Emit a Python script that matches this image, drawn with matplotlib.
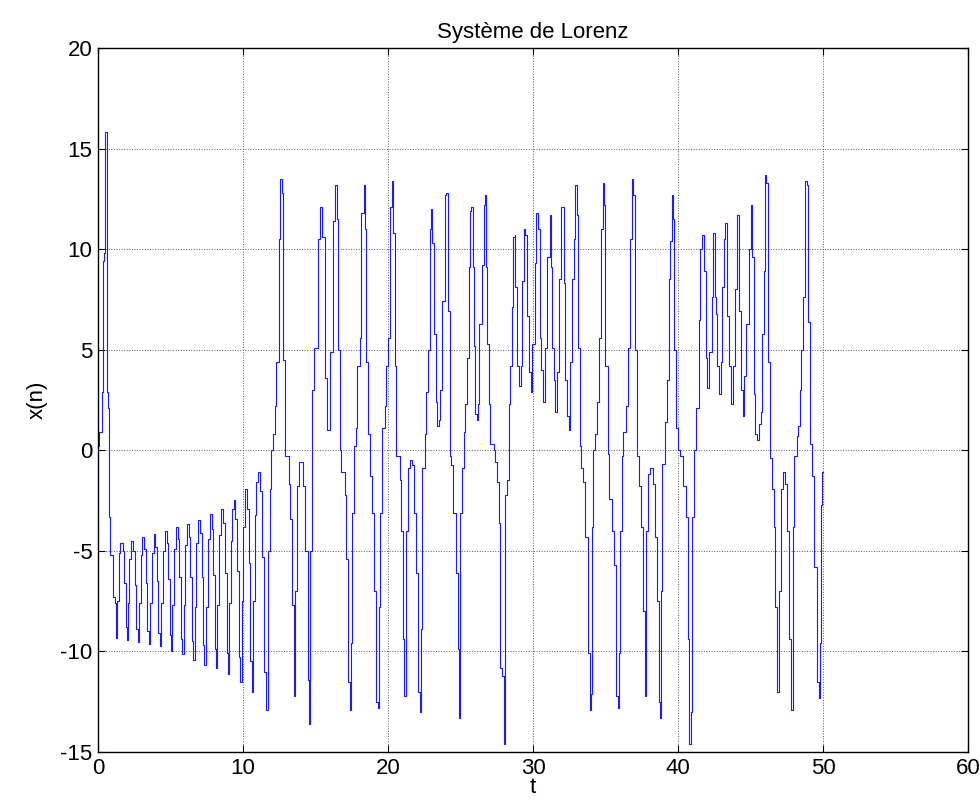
import matplotlib
matplotlib.use("Agg")
import matplotlib.pyplot as plt

start_t = [0.00, 0.08, 0.25, 0.34, 0.41, 0.48, 0.60, 0.64, 0.71, 0.76, 0.86, 1.00, 1.15]
start_x = [0.2, 0.9, 2.9, 9.4, 9.8, 15.8, 14.9, 2.9, 2.1, -3.3, -5.2, -7.3, -7.6]

# slow growing oscillation around the negative fixed point
calm_t = [1.22, 1.33, 1.45, 1.55, 1.70, 1.80, 1.90,
          1.98, 2.08, 2.17, 2.28, 2.42, 2.53, 2.64,
          2.74, 2.84, 2.94, 3.06, 3.19, 3.29, 3.40,
          3.50, 3.60, 3.70, 3.83, 3.96, 4.06, 4.17,
          4.27, 4.37, 4.47, 4.60, 4.73, 4.83, 4.94,
          5.03, 5.13, 5.23, 5.37, 5.50, 5.60, 5.71,
          5.80, 5.90, 6.00, 6.14, 6.27, 6.37, 6.47,
          6.56, 6.66, 6.77, 6.92, 7.05, 7.15, 7.25,
          7.34, 7.44, 7.55, 7.71, 7.84, 7.94, 8.04,
          8.12, 8.22, 8.33, 8.51, 8.64, 8.75, 8.86,
          8.96, 9.06, 9.16, 9.26, 9.36, 9.48, 9.58, 9.70,
          9.82, 9.92, 10.00, 10.12, 10.26, 10.38, 10.50,
          10.62, 10.72, 10.82, 10.92, 11.04, 11.18, 11.30, 11.44]
calm_x = [-9.35, -7.5, -5.1, -4.6, -5.0, -6.6, -8.8,
          -9.45, -7.6, -5.4, -4.5, -5.0, -6.7, -8.9,
          -9.55, -7.6, -5.2, -4.3, -4.9, -6.6, -9.0,
          -9.65, -7.6, -5.1, -4.15, -4.8, -6.5, -9.1,
          -9.75, -7.6, -5.0, -4.0, -4.6, -6.4, -9.2,
          -10.0, -7.7, -4.9, -3.8, -4.4, -6.3, -9.4,
          -10.15, -7.7, -4.7, -3.65, -4.3, -6.3, -9.5,
          -10.45, -7.8, -4.6, -3.45, -4.1, -6.3, -9.7,
          -10.65, -7.8, -4.4, -3.15, -3.9, -6.2, -9.9,
          -10.8, -7.7, -4.2, -2.9, -3.6, -6.1, -10.1,
          -11.1, -7.6, -4.5, -2.9, -2.45, -3.4, -6.0, -10.3,
          -11.5, -7.5, -3.8, -1.92, -2.9, -5.6, -10.5,
          -12.0, -7.5, -3.2, -1.6, -1.1, -2.0, -5.3, -11.0]

chaos1_t = [11.58, 11.72, 11.89, 11.95, 12.07, 12.18, 12.28, 12.46, 12.57,
            12.69, 12.75, 12.92, 13.15, 13.26, 13.38, 13.49,
            13.61, 13.72, 13.84,
            14.11, 14.30, 14.46, 14.57,
            14.64, 14.76, 14.87, 15.17, 15.33,
            15.45, 15.68, 15.79,
            16.02, 16.18, 16.35,
            16.48, 16.55, 16.67, 16.78, 17.01, 17.13, 17.24, 17.36,
            17.47, 17.54, 17.63, 17.77, 17.89, 18.05, 18.16, 18.34,
            18.44, 18.51, 18.62, 18.74, 18.92, 19.01, 19.15, 19.31,
            19.38, 19.43, 19.61, 19.77, 19.89, 20.00, 20.11, 20.30,
            20.34, 20.46, 20.57, 20.80, 20.92, 21.03, 21.10,
            21.22, 21.38, 21.54, 21.68,
            21.77, 21.91, 22.07, 22.23,
            22.30, 22.37, 22.53, 22.64, 22.76, 22.87, 22.99,
            23.06, 23.15, 23.29, 23.38, 23.52,
            23.61, 23.75, 23.91, 24.02,
            24.14, 24.25, 24.37, 24.48, 24.67, 24.80, 24.90]
chaos1_x = [-12.9, -5.0, -1.9, 0.0, 0.8, 2.2, 4.4, 10.5, 13.5,
            12.8, 4.5, -0.3, -1.7, -3.4, -7.7, -12.2,
            -7.0, -1.8, -0.6,
            -1.8, -5.0, -11.4, -13.6,
            -5.0, 3.0, 5.1, 10.5, 12.1,
            10.6, 3.6, 1.0,
            4.9, 11.4, 13.2,
            11.5, 5.0, 0.0, -1.1, -2.2, -5.4, -11.5, -12.9,
            -9.6, -3.1, 0.2, 1.1, 4.2, 5.6, 11.8, 13.2,
            11.0, 4.4, 0.8, -1.3, -3.1, -7.0, -12.5, -12.8,
            -7.8, -3.1, 1.1, 2.2, 4.2, 5.6, 12.1, 13.4,
            10.8, 4.2, -0.3, -1.5, -4.0, -9.4, -12.2,
            -4.0, -0.9, -0.5, -0.75,
            -3.1, -6.1, -12.0, -13.0,
            -8.9, -0.9, 0.8, 2.9, 5.0, 11.0, 12.0,
            10.3, 5.8, 2.4, 1.2, 1.5,
            3.0, 7.4, 12.7, 12.8,
            6.9, -0.3, -0.75, -3.1, -6.1, -9.9, -13.3]

chaos2_t = [24.99, 25.10, 25.22, 25.33, 25.45, 25.56, 25.68, 25.75,
            25.84, 25.91, 26.02, 26.14,
            26.21, 26.30, 26.48, 26.60, 26.71,
            26.78, 26.83, 26.94, 27.06, 27.29, 27.40, 27.52, 27.63, 27.75, 27.86, 27.98,
            28.05, 28.09, 28.21, 28.32, 28.44, 28.51, 28.60, 28.74,
            28.78, 28.90, 29.01,
            29.13, 29.24, 29.36, 29.47,
            29.59, 29.70, 29.82,
            29.93, 30.11, 30.21,
            30.34, 30.44, 30.57, 30.67,
            30.80, 30.97, 31.13,
            31.20, 31.31, 31.43, 31.54,
            31.66, 31.77, 31.89, 32.07,
            32.11, 32.23, 32.34, 32.46,
            32.57, 32.69, 32.80, 32.92]
chaos2_x = [-3.1, -0.9, 0.9, 2.3, 4.6, 9.1, 11.9, 12.1,
            9.1, 5.2, 1.8, 1.5,
            2.3, 6.3, 9.2, 12.2, 12.7,
            9.1, 5.3, 2.3, 0.3, 0.0, -0.6, -1.6, -3.6, -10.8, -11.2, -14.6,
            -12.8, -2.2, -1.5, 2.3, 4.2, 7.1, 10.6, 10.7,
            8.1, 4.2, 3.2,
            4.2, 8.4, 11.0, 10.7,
            6.7, 3.9, 2.9,
            5.3, 9.3, 11.8,
            11.0, 5.6, 4.0, 2.4,
            5.1, 9.6, 11.7,
            9.1, 5.1, 3.5, 1.9,
            3.9, 8.5, 12.1, 12.1,
            8.3, 3.5, 1.7, 1.0,
            4.4, 8.5, 10.5, 13.2]

chaos3_t = [33.01, 33.08, 33.20, 33.31, 33.47, 33.61, 33.77, 33.93,
            34.00, 34.07, 34.16, 34.30, 34.39, 34.53, 34.69, 34.85,
            34.92, 34.99, 35.15, 35.26, 35.45, 35.61, 35.72, 35.84,
            35.95, 36.00, 36.14, 36.23, 36.37, 36.53, 36.69, 36.83,
            36.92, 36.99, 37.15, 37.33, 37.45, 37.56, 37.68,
            37.79, 37.91, 38.07, 38.25,
            38.37, 38.53, 38.67, 38.76,
            38.83, 38.90, 39.06, 39.22, 39.36, 39.45, 39.59,
            39.63, 39.70, 39.82, 39.98, 40.14, 40.32, 40.55, 40.67, 40.78,
            40.90, 40.97, 41.06, 41.24, 41.43, 41.52, 41.66]
chaos3_x = [11.7, 5.1, 0.2, -0.9, -1.6, -4.3, -10.1, -12.9,
            -12.1, -3.8, 0.0, 0.8, 2.4, 5.6, 11.0, 13.3,
            12.2, 4.2, -0.2, -2.4, -4.0, -5.7, -12.2, -12.8,
            -10.1, -4.0, -0.3, 0.9, 2.2, 5.1, 10.5, 13.5,
            12.7, 5.0, -0.3, -1.8, -3.8, -8.0, -12.2,
            -4.0, -1.2, -0.9, -1.7,
            -4.3, -7.5, -12.5, -13.3,
            -7.0, -0.7, 1.4, 3.5, 8.5, 10.4, 12.7,
            11.5, 5.0, 1.1, 0.0, -0.3, -1.8, -3.3, -9.4, -14.6,
            -13.0, -3.3, 0.0, 2.1, 6.5, 10.0, 10.7]

chaos4_t = [41.77, 41.89, 42.00,
            42.11, 42.34, 42.41,
            42.51, 42.62, 42.69, 42.80,
            42.92, 43.03, 43.15, 43.26,
            43.38, 43.49, 43.66,
            43.79, 43.89, 44.07,
            44.18, 44.30, 44.48,
            44.57, 44.71, 44.87, 44.99,
            45.10, 45.22, 45.33, 45.45,
            45.56, 45.68, 45.79, 45.91, 45.98,
            46.09, 46.18, 46.32, 46.48, 46.60, 46.71, 46.83,
            46.94, 47.06, 47.24, 47.40,
            47.52, 47.63, 47.79,
            47.93, 48.02, 48.16, 48.25, 48.39, 48.48, 48.62, 48.74,
            48.90, 48.94, 49.08, 49.24, 49.36, 49.54, 49.70,
            49.77, 49.86, 49.95, 50.00]
chaos4_x = [8.9, 4.6, 3.1,
            4.9, 7.6, 10.8,
            7.6, 6.8, 4.2, 2.8,
            4.4, 8.1, 10.5, 11.3,
            6.7, 4.2, 2.3,
            4.2, 8.0, 11.7,
            6.9, 3.0, 1.7,
            3.7, 6.3, 10.0, 12.2,
            9.6, 2.8, 0.8, 0.5,
            1.3, 1.9, 5.8, 8.9, 13.7,
            13.3, 4.4, -0.4, -1.9, -3.8, -7.8, -12.0,
            -7.0, -1.9, -1.1, -1.7,
            -4.0, -9.4, -12.9,
            -3.8, -0.3, 0.7, 1.2, 3.0, 5.0, 7.6, 13.4,
            13.2, 6.4, 0.3, -1.3, -5.8, -11.5, -12.3,
            -9.6, -2.7, -1.1, -1.1]

x_ticks = [0, 10, 20, 30, 40, 50, 60]
y_ticks = [-15, -10, -5, 0, 5, 10, 15, 20]

t = start_t + calm_t + chaos1_t + chaos2_t + chaos3_t + chaos4_t
xn = start_x + calm_x + chaos1_x + chaos2_x + chaos3_x + chaos4_x

plt.rcParams['font.family'] = ['Liberation Sans', 'DejaVu Sans']
plt.rcParams['axes.unicode_minus'] = False

fig = plt.figure(figsize=(9.8, 8), dpi=100)
ax = fig.add_axes([0.1, 0.06, 0.888, 0.88])

ax.plot(t, xn, color=(0.1, 0.1, 1.0), lw=0.8, drawstyle='steps-post')

ax.set_xlim(0, 60)
ax.set_ylim(-15, 20)
ax.set_xticks(x_ticks)
ax.set_yticks(y_ticks)
ax.grid(True, linestyle=':', color='0.35', lw=0.7)
ax.tick_params(direction='in', top=True, right=True, length=5, width=0.8, labelsize=16, pad=4)
for s in ax.spines.values():
    s.set_linewidth(1.0)

ax.set_title('Système de Lorenz', fontsize=16, pad=7)
ax.set_xlabel('t', fontsize=16, labelpad=-1)
ax.set_ylabel('x(n)', fontsize=16, labelpad=9)

plt.savefig('out.png', dpi=100)
